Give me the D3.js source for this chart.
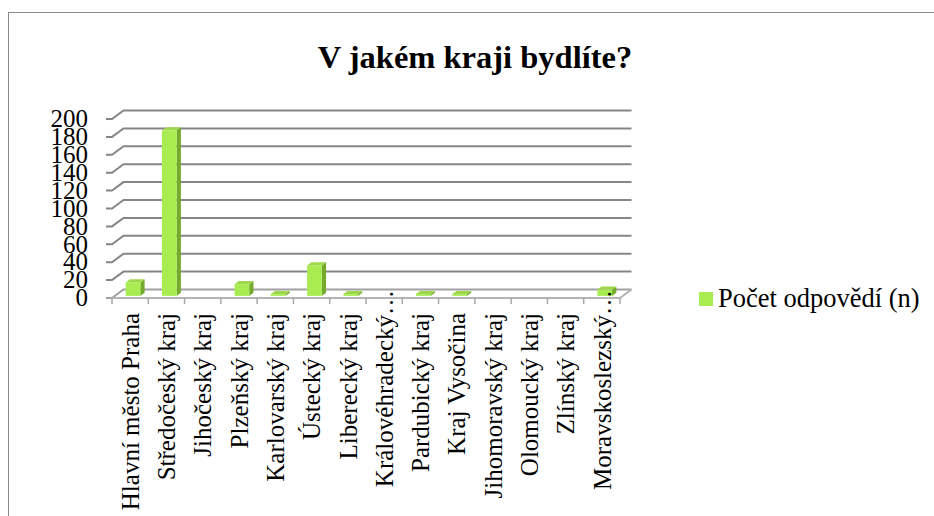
<!DOCTYPE html>
<html>
<head>
<meta charset="utf-8">
<script src="https://cdn.jsdelivr.net/npm/d3@7"></script>
<style>
  body { margin: 0; background: #fff; }
</style>
</head>
<body>
<div id="chart"></div>
<script>
// data
const title = "V jakém kraji bydlíte?";
const seriesName = "Počet odpovědí (n)";
const categories = [
    "Hlavní město Praha", "Středočeský kraj", "Jihočeský kraj", "Plzeňský kraj",
    "Karlovarský kraj", "Ústecký kraj", "Liberecký kraj", "Královéhradecký kraj",
    "Pardubický kraj", "Kraj Vysočina", "Jihomoravský kraj", "Olomoucký kraj",
    "Zlínský kraj", "Moravskoslezský kraj"
];
const values = [15, 185, 0, 13, 2, 34, 2, 0, 2, 2, 0, 0, 0, 7];
const yTicks = [0, 20, 40, 60, 80, 100, 120, 140, 160, 180, 200];

const width = 934, height = 516;
const depthX = 11.5, depthY = 8.5;   // offset of the back wall
const barFront = 0.25, barBack = 0.62; // bar depth position (0 = front, 1 = back)

const svg = d3.select("#chart").append("svg")
    .attr("width", width)
    .attr("height", height)
    .attr("font-family", "'Liberation Serif', 'Times New Roman', Times, serif");

// chart area border
svg.append("rect")
    .attr("x", 8.5).attr("y", 12.5)
    .attr("width", 1000).attr("height", 600)
    .attr("fill", "none")
    .attr("stroke", "#8a8a8a")
    .attr("stroke-width", 1);

svg.append("text")
    .attr("x", 475).attr("y", 68)
    .attr("text-anchor", "middle")
    .style("font-size", "32.5px")
    .style("font-weight", "bold")
    .text(title);

const x = d3.scaleBand().domain(categories).range([112, 620]);
const y = d3.scaleLinear().domain([0, 200]).range([298, 119]);
const x0 = x.range()[0], x1 = x.range()[1];

// back wall gridlines + left wall diagonals
const grid = svg.append("g").attr("stroke-width", 2).attr("fill", "none");
yTicks.forEach(t => {
    const yf = y(t), yb = y(t) - depthY;
    grid.append("path")
        .attr("d", `M${x0 - 6},${yf}L${x0},${yf}L${x0 + depthX},${yb}L${x1 + depthX},${yb}`)
        .attr("stroke", t === 0 ? "#a0a0a0" : "#868686");
});

// floor front edge and right side
svg.append("path")
    .attr("d", `M${x0},${y(0)}L${x1},${y(0)}L${x1 + depthX},${y(0) - depthY}`)
    .attr("fill", "none")
    .attr("stroke", "#b4b4b4")
    .attr("stroke-width", 2);

// category tick marks
svg.append("g").selectAll("line")
    .data(categories.map(c => x(c)).concat([x1]))
    .join("line")
    .attr("x1", d => d).attr("x2", d => d)
    .attr("y1", y(0)).attr("y2", y(0) + 6)
    .attr("stroke", "#a8a8a8")
    .attr("stroke-width", 1.5);

// y labels
svg.append("g").selectAll("text")
    .data(yTicks)
    .join("text")
    .attr("x", 88)
    .attr("y", d => y(d))
    .attr("dy", "0.33em")
    .attr("text-anchor", "end")
    .style("font-size", "25px")
    .text(d => d);

// 3D columns
const bw = x.bandwidth() * 0.405;
const ddx = (barBack - barFront) * depthX, ddy = (barBack - barFront) * depthY;
const bars = svg.append("g").selectAll("g")
    .data(categories.map((c, i) => ({ c, v: values[i] })).filter(d => d.v > 0))
    .join("g");

bars.each(function (d) {
    const g = d3.select(this);
    const xf = x(d.c) + (x.bandwidth() - bw) / 2 + barFront * depthX;
    const yb = y(0) - barFront * depthY;
    const yt = y(d.v) - barFront * depthY;
    g.append("path") // side
        .attr("d", `M${xf + bw},${yb}L${xf + bw},${yt}L${xf + bw + ddx},${yt - ddy}L${xf + bw + ddx},${yb - ddy}Z`)
        .attr("fill", "#74ab2c");
    g.append("path") // top
        .attr("d", `M${xf},${yt}L${xf + bw},${yt}L${xf + bw + ddx},${yt - ddy}L${xf + ddx},${yt - ddy}Z`)
        .attr("fill", "#9ed84a");
    g.append("rect") // front
        .attr("x", xf).attr("y", yt)
        .attr("width", bw).attr("height", yb - yt)
        .attr("fill", "#a8ec52");
});

// category labels (rotated, truncated like Excel)
const maxLabel = 205;
const labels = svg.append("g").selectAll("text")
    .data(categories)
    .join("text")
    .attr("text-anchor", "end")
    .attr("dy", "0.35em")
    .style("font-size", "25px")
    .text(d => d);

labels.each(function (d) {
    const t = d3.select(this);
    let cut = false;
    if (this.getComputedTextLength() > maxLabel) {
        let s = d;
        while (s.length > 1 && (t.text(s + "…"), this.getComputedTextLength() > maxLabel)) {
            s = s.slice(0, -1);
        }
        t.text(s.trimEnd() + "…");
        cut = true;
    }
    const cx = x(d) + x.bandwidth() / 2;
    const ty = cut ? 290 : 313;
    t.attr("transform", `translate(${cx},${ty}) rotate(-90)`);
});

// legend
svg.append("rect")
    .attr("x", 699).attr("y", 292)
    .attr("width", 14).attr("height", 14)
    .attr("fill", "#a8ec52");
svg.append("text")
    .attr("x", 718).attr("y", 307)
    .style("font-size", "26.5px")
    .text(seriesName);
</script>
</body>
</html>
